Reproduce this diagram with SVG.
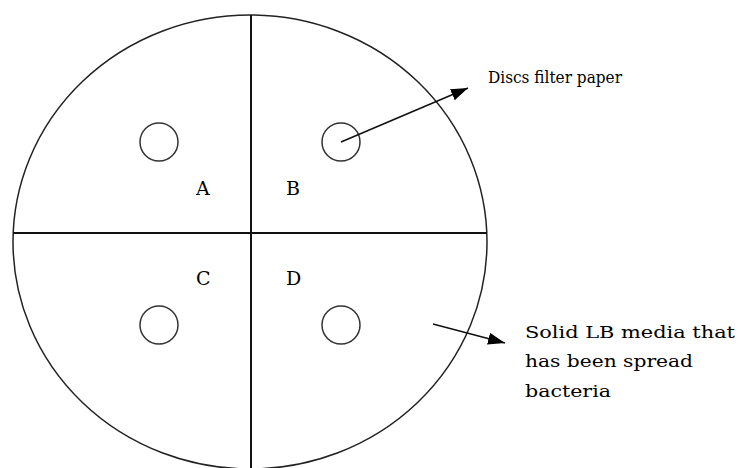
<svg xmlns="http://www.w3.org/2000/svg" width="741" height="468" viewBox="0 0 741 468">
<style>
.outline{fill:none;stroke:#222;stroke-width:1.5}
.div{fill:none;stroke:#111;stroke-width:2}
.disc{fill:none;stroke:#333;stroke-width:1.5}
.lbl{font-family:"DejaVu Serif","Liberation Serif",serif;font-size:19px;fill:#000}
.note{font-family:"DejaVu Serif","Liberation Serif",serif;font-size:17px;fill:#000}
.conn{fill:none;stroke:#111;stroke-width:1.6}
</style>
<defs>
<marker id="ah" markerUnits="userSpaceOnUse" markerWidth="18" markerHeight="14" refX="17" refY="6" orient="auto">
<path d="M0,0 L17,6 L0,12 Z" fill="#000"/>
</marker>
</defs>
<rect width="741" height="468" fill="#fff"/>
<g id="plate">
<ellipse class="outline" cx="250" cy="242" rx="237" ry="227"/>
<line class="div" x1="251" y1="15" x2="251" y2="468"/>
<line class="div" x1="13" y1="233" x2="487" y2="233"/>
</g>
<g id="disc-A"><circle class="disc" cx="159" cy="142" r="19"/><text class="lbl" x="196" y="195">A</text></g>
<g id="disc-B"><circle class="disc" cx="341" cy="142" r="19"/><text class="lbl" x="286" y="195">B</text></g>
<g id="disc-C"><circle class="disc" cx="159" cy="325" r="19"/><text class="lbl" x="196" y="285">C</text></g>
<g id="disc-D"><circle class="disc" cx="341" cy="325" r="19"/><text class="lbl" x="286" y="285">D</text></g>
<g id="label-discs"><text class="note" x="488" y="83" textLength="134" lengthAdjust="spacingAndGlyphs">Discs filter paper</text></g>
<g id="label-media">
<text class="note" x="525" y="338" textLength="210" lengthAdjust="spacingAndGlyphs">Solid LB media that</text>
<text class="note" x="525" y="367" textLength="168" lengthAdjust="spacingAndGlyphs">has been spread</text>
<text class="note" x="525" y="397" textLength="86" lengthAdjust="spacingAndGlyphs">bacteria</text>
</g>
<g id="connectors">
<line class="conn" x1="341" y1="142" x2="468" y2="88" marker-end="url(#ah)"/>
<line class="conn" x1="433" y1="324" x2="505" y2="343" marker-end="url(#ah)"/>
</g>
</svg>
